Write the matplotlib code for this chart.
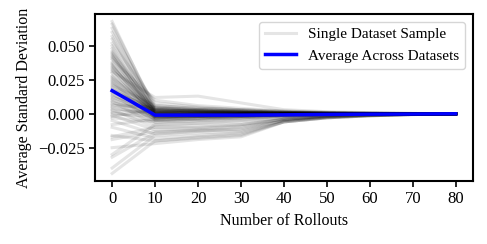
import numpy as np
import matplotlib
matplotlib.use("Agg")
import matplotlib.pyplot as plt

plt.rcParams['font.family'] = ['Liberation Serif', 'DejaVu Serif']

# rollout counts on the x axis
rollouts = [0, 10, 20, 30, 40, 50, 60, 70, 80]

# per-dataset curves, values in units of 1e-3
samples_milli = [
    [68, 2, 1, 1, 0.5, 0.3, 0.2, 0.1, 0],
    [66, 4, 3, 2, 1, 0.5, 0.3, 0.1, 0],
    [63, 1, 0, 0, 0, 0, 0, 0, 0],
    [60, 6, 4, 3, 1.5, 0.8, 0.4, 0.2, 0],
    [57, -1, -1, -0.5, 0, 0, 0, 0, 0],
    [55, 3, 2, 1, 0.5, 0.3, 0.1, 0.1, 0],
    [52, 8, 5, 3, 2, 1, 0.5, 0.2, 0],
    [50, 0, -1, -1, -0.5, -0.3, -0.2, -0.1, 0],
    [48, 2, 1, 0.5, 0.3, 0.2, 0.1, 0, 0],
    [46, -2, -2, -1, -1, -0.5, -0.2, -0.1, 0],
    [45, 5, 3, 2, 1, 0.5, 0.2, 0.1, 0],
    [44, 1, 1, 0.5, 0, 0, 0, 0, 0],
    [43, -3, -2, -1.5, -1, -0.5, -0.3, -0.1, 0],
    [42, 3, 2, 1, 0.5, 0.2, 0.1, 0, 0],
    [41, 0, 0, 0, 0, 0, 0, 0, 0],
    [40, 10, 6, 4, 2, 1, 0.5, 0.2, 0],
    [38, -1, -1, -1, -0.5, -0.3, -0.2, -0.1, 0],
    [37, 2, 2, 1, 0.5, 0.2, 0.1, 0, 0],
    [36, -4, -3, -2, -1, -0.5, -0.3, -0.1, 0],
    [35, 1, 0, 0, 0, 0, 0, 0, 0],
    [34, 4, 3, 2, 1, 0.5, 0.3, 0.1, 0],
    [33, -2, -2, -1, -0.5, -0.2, -0.1, 0, 0],
    [32, 0, 1, 0.5, 0.3, 0.2, 0.1, 0, 0],
    [31, 12, 13, 8, 3, 1.5, 0.8, 0.3, 0],
    [30, -3, -1, -1, -0.5, -0.3, -0.1, 0, 0],
    [28, 2, 1, 1, 0.5, 0.2, 0.1, 0, 0],
    [27, -1, 0, 0, 0, 0, 0, 0, 0],
    [26, 3, 2, 1.5, 1, 0.5, 0.2, 0.1, 0],
    [25, 0, -1, -0.5, -0.3, -0.2, -0.1, 0, 0],
    [24, -5, -4, -3, -1.5, -0.8, -0.4, -0.2, 0],
    [23, 1, 1, 0.5, 0.3, 0.2, 0.1, 0, 0],
    [22, -2, -1, -1, -0.5, -0.3, -0.1, 0, 0],
    [21, 6, 4, 3, 1.5, 0.5, 0.3, 0.1, 0],
    [20, 0, 0, 0, 0, 0, 0, 0, 0],
    [19, -3, -2, -2, -1, -0.5, -0.2, -0.1, 0],
    [18, 2, 1, 1, 0.5, 0.3, 0.1, 0, 0],
    [17, -1, -1, 0, 0, 0, 0, 0, 0],
    [16, 4, 2, 2, 1, 0.5, 0.3, 0.1, 0],
    [15, -6, -5, -3, -2, -1, -0.5, -0.2, 0],
    [14, 1, 0, 0, 0, 0, 0, 0, 0],
    [13, -2, -2, -1, -0.5, -0.2, -0.1, 0, 0],
    [12, 3, 2, 1, 0.5, 0.3, 0.1, 0, 0],
    [11, -4, -3, -2, -1, -0.5, -0.3, -0.1, 0],
    [10, 0, 1, 0.5, 0, 0, 0, 0, 0],
    [9, -8, -7, -5, -3, -1.5, -0.8, -0.3, 0],
    [8, 2, 2, 1, 0.5, 0.2, 0.1, 0, 0],
    [7, -1, -1, -1, -0.5, -0.2, -0.1, 0, 0],
    [6, 5, 3, 2, 1, 0.5, 0.2, 0.1, 0],
    [5, -3, -2, -2, -1, -0.5, -0.3, -0.1, 0],
    [4, 0, -1, -0.5, -0.3, -0.1, 0, 0, 0],
    [3, -10, -9, -8, -4, -2, -1, -0.4, 0],
    [2, 1, 0, 0, 0, 0, 0, 0, 0],
    [1, -5, -4, -3, -1.5, -0.8, -0.4, -0.2, 0],
    [0, -2, -2, -1, -0.5, -0.3, -0.1, 0, 0],
    [-1, -12, -11, -9, -4, -2, -1, -0.5, 0],
    [-2, 3, 2, 1, 0.5, 0.3, 0.1, 0, 0],
    [-3, -6, -5, -4, -2, -1, -0.5, -0.2, 0],
    [-5, -15, -13, -11, -5, -2.5, -1.2, -0.5, 0],
    [-8, -4, -3, -2, -1, -0.5, -0.2, -0.1, 0],
    [-10, -18, -16, -14, -6, -3, -1.5, -0.6, 0],
    [-16, -20, -18, -16, -6, -3, -1.5, -0.5, 0],
    [-17, -10, -10, -8, -4, -2, -1, -0.4, 0],
    [-19, -13, -12, -12, -5, -2.5, -1.2, -0.5, 0],
    [-25, -22, -19, -17, -6, -3, -1.5, -0.6, 0],
    [-30, -8, -7, -6, -3, -1.5, -0.8, -0.3, 0],
    [-32, -14, -12, -10, -4, -2, -1, -0.4, 0],
    [-40, -16, -14, -13, -5, -2.5, -1.2, -0.5, 0],
    [-44, -20, -17, -15, -6, -3, -1.5, -0.6, 0],
]

# average curve across datasets
average = [0.017, -0.001, -0.001, -0.001, -0.0008, -0.0005, -0.0003, -0.0002, 0.0]

fig = plt.figure(figsize=(4.87, 2.44), dpi=100)
ax = fig.add_axes([0.195, 0.258, 0.776, 0.685])

for i, row in enumerate(samples_milli):
    ax.plot(rollouts, np.array(row) * 1e-3, color='black', alpha=0.1, lw=2.2,
            label='Single Dataset Sample' if i == 0 else None)

ax.plot(rollouts, average, color='blue', lw=2.5, label='Average Across Datasets')

ax.set_xticks(rollouts)
ax.set_yticks([-0.025, 0.0, 0.025, 0.05])
ax.set_yticklabels(['\u22120.025', '0.000', '0.025', '0.050'])
ax.tick_params(labelsize=12, width=1.2, length=4)
for s in ax.spines.values():
    s.set_linewidth(1.5)

ax.set_xlabel('Number of Rollouts', fontsize=11.5)
ax.set_ylabel('Average Standard Deviation', fontsize=11.5)

ax.legend(loc='upper right', fontsize=11, handlelength=2)

fig.savefig('out.png', dpi=100)
